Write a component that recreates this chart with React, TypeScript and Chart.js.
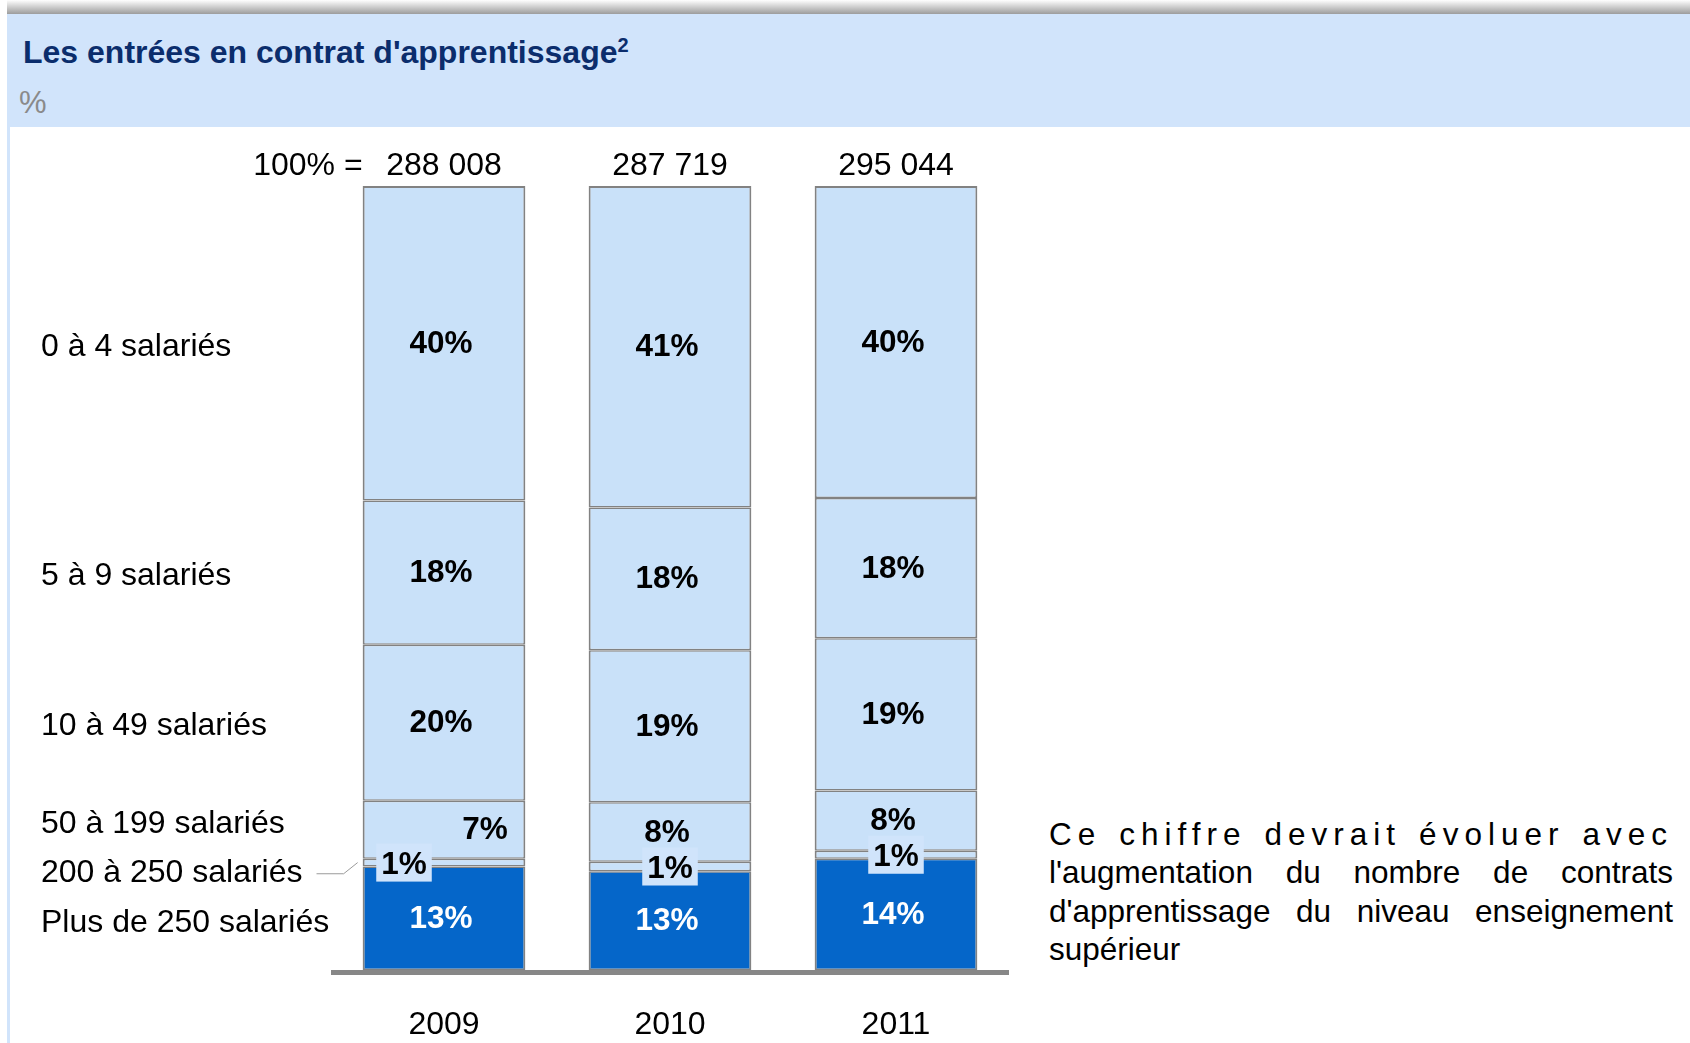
import React, { useEffect, useRef } from "react";
import { Chart, registerables } from "chart.js";

Chart.register(...registerables);

// ---- data ----
const years = ["2009", "2010", "2011"];
const totals = ["288 008", "287 719", "295 044"];
const totalPrefix = "100% =";
// bottom -> top
const sizeClasses = [
  "Plus de 250 salariés",
  "200 à 250 salariés",
  "50 à 199 salariés",
  "10 à 49 salariés",
  "5 à 9 salariés",
  "0 à 4 salariés",
];
const plus250 = [13.2, 12.6, 14.2];
const s200to250 = [1.0, 1.2, 1.0];
const s50to199 = [7.4, 7.6, 7.7];
const s10to49 = [19.9, 19.4, 19.4];
const s5to9 = [18.4, 18.2, 17.9];
const s0to4 = [40.1, 41.0, 39.8];

const titleText = "Les entrées en contrat d'apprentissage";
const titleSup = "2";
const unitText = "%";
const noteLines = [
  "Ce chiffre devrait évoluer avec",
  "l'augmentation du nombre de contrats",
  "d'apprentissage du niveau enseignement",
  "supérieur",
];

const FONT = '"Liberation Sans", Arial, Helvetica, sans-serif';
const LIGHT = "#c9e1f9";
const BOX = "#d0e4fb";
const DARK = "#0566c9";
const BORDER = "#828282";
const BAND = "#d1e4fb";

export default function App() {
  const ref = useRef<HTMLCanvasElement>(null);

  useEffect(() => {
    const canvas = ref.current;
    if (!canvas) return;
    const series = [plus250, s200to250, s50to199, s10to49, s5to9, s0to4];

    const annot = {
      id: "annot",
      afterDatasetsDraw(chart: any) {
        const ctx = chart.ctx as CanvasRenderingContext2D;
        const area = chart.chartArea;
        const metas = series.map((_, d) => chart.getDatasetMeta(d));
        ctx.save();
        // baseline axis
        ctx.strokeStyle = "#878787";
        ctx.lineWidth = 5;
        ctx.beginPath();
        ctx.moveTo(area.left, area.bottom + 2.5);
        ctx.lineTo(area.right, area.bottom + 2.5);
        ctx.stroke();

        // totals and years
        ctx.font = `32px ${FONT}`;
        ctx.fillStyle = "#000";
        ctx.textBaseline = "middle";
        years.forEach((y, i) => {
          const el = metas[0].data[i];
          ctx.textAlign = "center";
          ctx.fillText(totals[i], el.x, area.top - 20);
          ctx.fillText(y, el.x, area.bottom + 55);
        });
        const first = metas[0].data[0];
        const barLeft = first.x - first.width / 2;
        ctx.textAlign = "right";
        ctx.fillText(totalPrefix, barLeft, area.top - 20);

        // value labels
        series.forEach((vals, d) => {
          metas[d].data.forEach((el: any, i: number) => {
            let cx = el.x - 3;
            let cy = (el.y + el.base) / 2;
            const txt = Math.round(vals[i]) + "%";
            ctx.font = `bold 31.5px ${FONT}`;
            ctx.textAlign = "center";
            if (d === 1) {
              cx = i === 0 ? el.x - 40 : el.x;
              const w = ctx.measureText(txt).width + 10;
              ctx.fillStyle = BOX;
              ctx.fillRect(cx - w / 2, cy - 19, w, 38);
              cy += 2;
            }
            if (d === 2 && i === 0) cx = el.x + 41;
            ctx.fillStyle = d === 0 ? "#ffffff" : "#000000";
            ctx.fillText(txt, cx, cy + 1);
          });
        });

        // category labels on the left
        ctx.font = `32px ${FONT}`;
        ctx.textAlign = "left";
        ctx.fillStyle = "#000";
        const centers = series.map((_, d) => {
          const el = metas[d].data[0];
          return (el.y + el.base) / 2;
        });
        const ys = [
          centers[0] + 5,
          centers[0] - 45,
          centers[0] - 94,
          centers[3] + 4,
          centers[4] + 4,
          centers[5] + 4,
        ];
        sizeClasses.forEach((t, d) => ctx.fillText(t, 41, ys[d]));
        // leader line
        const w200 = ctx.measureText(sizeClasses[1]).width;
        ctx.strokeStyle = "#9a9a9a";
        ctx.lineWidth = 1;
        ctx.beginPath();
        ctx.moveTo(41 + w200 + 14, ys[1] + 0.5);
        ctx.lineTo(barLeft - 19, ys[1] + 0.5);
        ctx.lineTo(barLeft - 5, centers[1]);
        ctx.stroke();
        ctx.restore();
      },
    };

    const chart = new Chart(canvas, {
      type: "bar",
      data: {
        labels: years,
        datasets: series.map((vals, d) => ({
          label: sizeClasses[d],
          data: vals,
          backgroundColor: d === 0 ? DARK : LIGHT,
          borderColor: BORDER,
          borderWidth: { top: d === 5 ? 2 : 1.5, bottom: 1.5, left: 2, right: 2 },
          borderSkipped: false,
          barPercentage: 0.72,
          categoryPercentage: 1,
        })),
      },
      options: {
        responsive: false,
        animation: false,
        devicePixelRatio: 1,
        layout: { padding: { left: 331, right: 681, top: 186, bottom: 73 } },
        plugins: { legend: { display: false }, tooltip: { enabled: false } },
        scales: {
          x: { stacked: true, display: false },
          y: { stacked: true, display: false, min: 0, max: 100 },
        },
      },
      plugins: [annot],
    });
    return () => chart.destroy();
  }, []);

  return (
    <div
      style={{
        position: "absolute",
        left: 0,
        top: 0,
        width: 1690,
        height: 1043,
        overflow: "hidden",
        background: "#fff",
        fontFamily: FONT,
      }}
    >
      <div
        style={{
          position: "absolute",
          left: 7,
          top: 0,
          width: 1683,
          height: 14,
          background: "linear-gradient(to bottom, #ffffff, #9c9c9c)",
        }}
      />
      <div
        style={{
          position: "absolute",
          left: 7,
          top: 14,
          width: 1683,
          height: 113,
          background: BAND,
        }}
      />
      <div
        style={{
          position: "absolute",
          left: 7,
          top: 127,
          width: 3,
          height: 916,
          background: BAND,
        }}
      />
      <div
        style={{
          position: "absolute",
          left: 23,
          top: 34,
          fontSize: 32,
          lineHeight: "36px",
          fontWeight: "bold",
          color: "#0b2d6c",
          whiteSpace: "nowrap",
        }}
      >
        {titleText}
        <sup style={{ fontSize: 20, verticalAlign: "11px", lineHeight: 0 }}>{titleSup}</sup>
      </div>
      <div
        style={{
          position: "absolute",
          left: 19,
          top: 85,
          fontSize: 31,
          lineHeight: "36px",
          color: "#8a8a8a",
        }}
      >
        {unitText}
      </div>
      <div
        style={{
          position: "absolute",
          left: 1049,
          top: 815,
          width: 624,
          fontSize: 31.5,
          lineHeight: "38.3px",
          color: "#000",
        }}
      >
        {noteLines.map((l, i) => (
          <div
            key={i}
            style={{
              textAlign: i < noteLines.length - 1 ? "justify" : "left",
              textAlignLast: i < noteLines.length - 1 ? "justify" : "left",
              letterSpacing: i === 0 ? "6px" : "0px",
              whiteSpace: "nowrap",
            }}
          >
            {l}
          </div>
        ))}
      </div>
      <canvas
        ref={ref}
        width={1690}
        height={1043}
        style={{ position: "absolute", left: 0, top: 0, width: 1690, height: 1043 }}
      />
    </div>
  );
}
